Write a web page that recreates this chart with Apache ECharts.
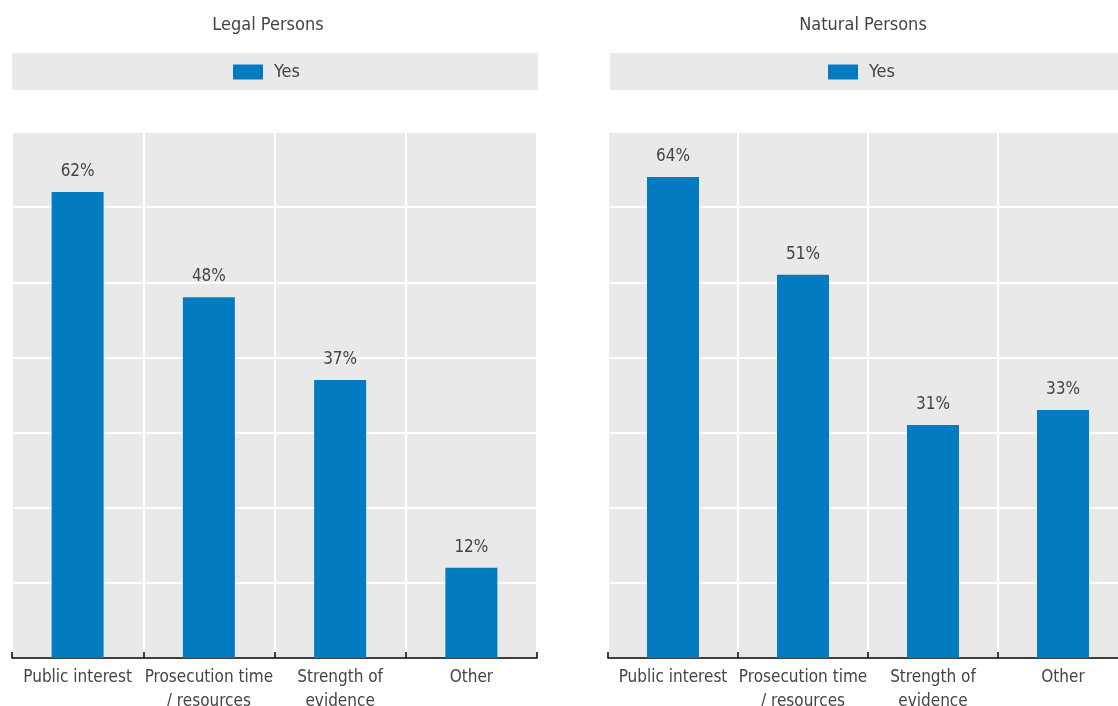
<!DOCTYPE html>
<html><head><meta charset="utf-8">
<script src="https://cdn.jsdelivr.net/npm/echarts@6/dist/echarts.min.js"></script>
<style>html,body{margin:0;padding:0;background:#fff}#c{width:1118px;height:706px}</style>
</head><body><div id="c"></div>
<script>
var categories = ['Public interest', 'Prosecution time\n/ resources', 'Strength of\nevidence', 'Other'];
var legalValues = [62, 48, 37, 12];
var naturalValues = [64, 51, 31, 33];
var panelTitles = ['Legal Persons', 'Natural Persons'];
var seriesName = 'Yes';

var FONT = "'Liberation Sans Narrow', 'DejaVu Sans Condensed', 'Roboto', sans-serif";
var TXT = '#444';
var BAR = '#037bc1';
var chart = echarts.init(document.getElementById('c'));

function xAxis(i) {
  return {
    type: 'category', gridIndex: i, data: categories,
    axisLine: {show: true, lineStyle: {color: '#000', width: 1.5}},
    axisTick: {show: true, inside: true, length: 6, lineStyle: {color: '#000', width: 1.5}},
    splitLine: {show: true, lineStyle: {color: '#fff', width: 2}},
    axisLabel: {color: TXT, fontFamily: FONT, fontSize: 17, margin: 8, lineHeight: 24, interval: 0}
  };
}
function yAxis(i) {
  return {
    type: 'value', gridIndex: i, min: 0, max: 70, interval: 10,
    axisLabel: {show: false}, axisLine: {show: false}, axisTick: {show: false},
    splitLine: {show: true, lineStyle: {color: '#fff', width: 2}}
  };
}
function bar(i, vals) {
  return {
    type: 'bar', name: seriesName, xAxisIndex: i, yAxisIndex: i, data: vals,
    barWidth: 52, itemStyle: {color: BAR},
    label: {show: true, position: 'top', distance: 12, formatter: '{c}%',
      color: TXT, fontFamily: FONT, fontSize: 17}
  };
}
function legend(x) {
  return {data: [seriesName], left: x, top: 58, itemWidth: 30, itemHeight: 15, icon: 'rect',
    textStyle: {color: TXT, fontFamily: FONT, fontSize: 18, padding: [0, 0, 0, 6]}};
}
function title(t, x) {
  return {text: t, left: x, top: 11, textAlign: 'center',
    textStyle: {color: TXT, fontFamily: FONT, fontSize: 18, fontWeight: 'normal'}};
}

chart.setOption({
  animation: false,
  title: [title(panelTitles[0], 263), title(panelTitles[1], 858)],
  graphic: [
    {type: 'rect', shape: {x: 12, y: 53, width: 526, height: 37}, style: {fill: '#e9e9e9'}, z: -1},
    {type: 'rect', shape: {x: 610, y: 53, width: 510, height: 37}, style: {fill: '#e9e9e9'}, z: -1}
  ],
  legend: [legend(228), legend(823)],
  grid: [
    {left: 12, top: 132, width: 525, height: 526, show: true, backgroundColor: '#e9e9e9', borderWidth: 0,
      outerBoundsMode: 'none', containLabel: false},
    {left: 608, top: 132, width: 520, height: 526, show: true, backgroundColor: '#e9e9e9', borderWidth: 0,
      outerBoundsMode: 'none', containLabel: false}
  ],
  xAxis: [xAxis(0), xAxis(1)],
  yAxis: [yAxis(0), yAxis(1)],
  series: [bar(0, legalValues), bar(1, naturalValues)]
});
</script></body></html>
